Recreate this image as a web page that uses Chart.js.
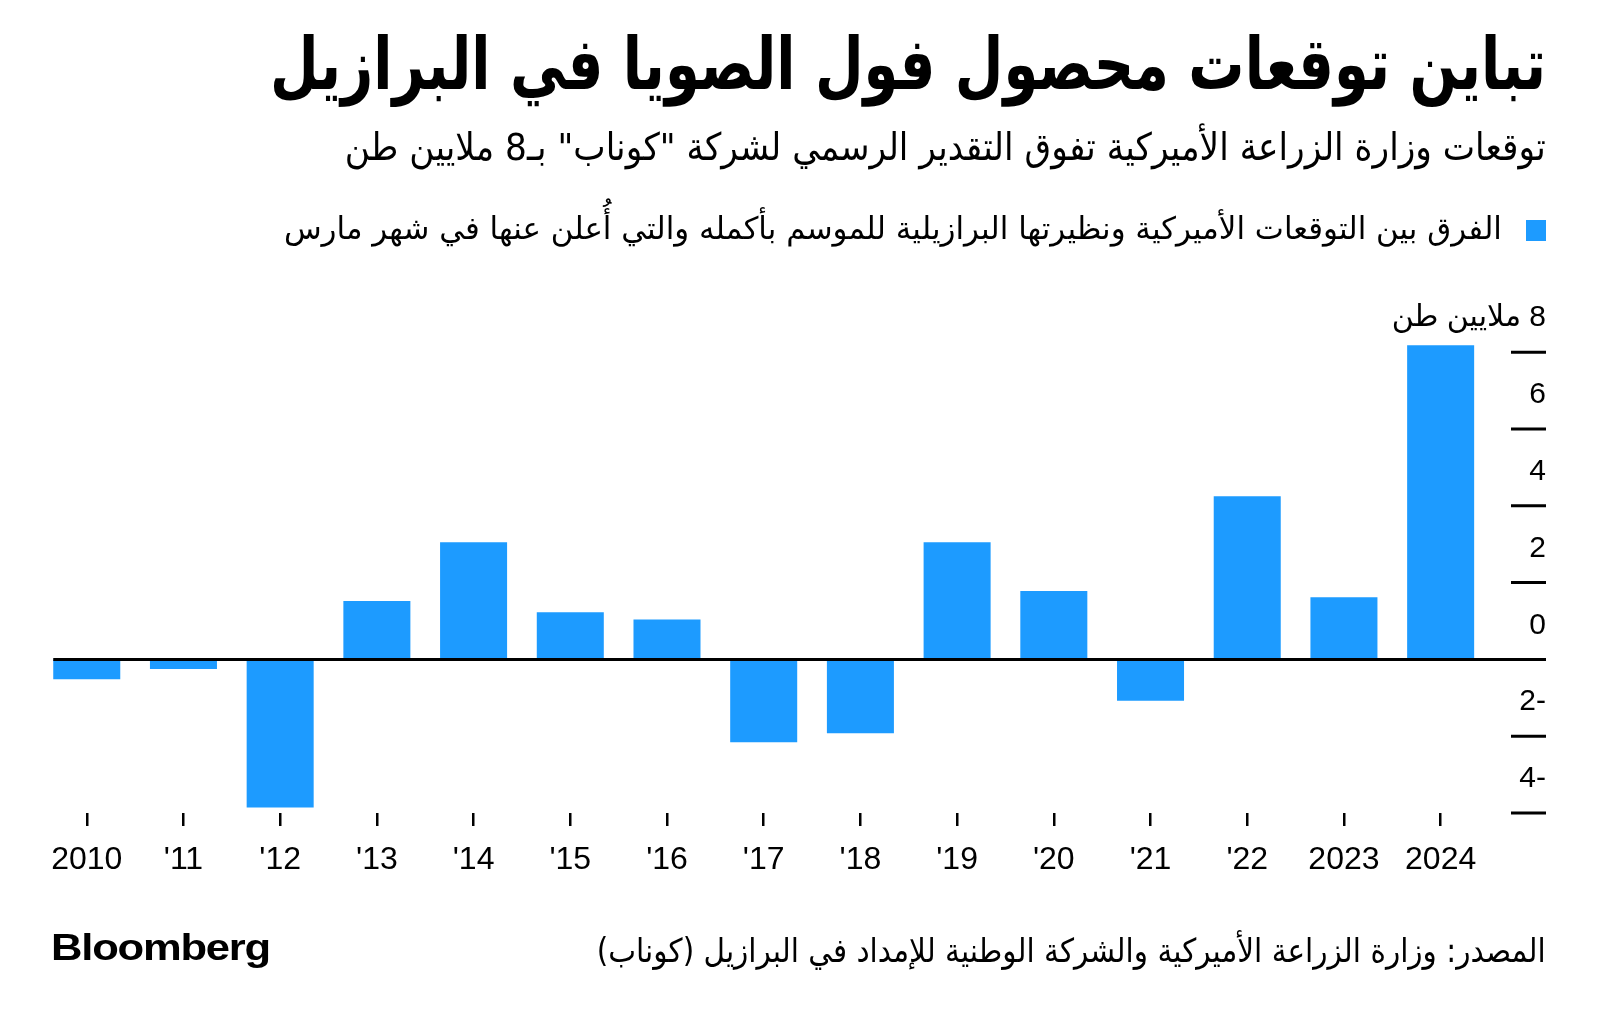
<!DOCTYPE html>
<html lang="ar">
<head>
<meta charset="utf-8">
<script src="https://cdn.jsdelivr.net/npm/chart.js@4"></script>
<style>
    body { margin: 0; background: #fff; }
    #page { position: relative; width: 1600px; height: 1025px; overflow: hidden; background: #fff; }
    #myChart { position: absolute; left: 0; top: 0; }
    .txt { position: absolute; white-space: nowrap; line-height: 1; color: #000; font-family: 'DejaVu Sans', sans-serif; }
    .rtl { direction: rtl; right: 54px; transform-origin: right center; }
    #title { top: 28px; font-size: 72px; font-weight: bold; }
    #subtitle { top: 128px; font-size: 38px; }
    #legendText { top: 213px; font-size: 31px; right: 98px; }
    #legendBox { position: absolute; left: 1526px; top: 220px; width: 20px; height: 21px; background: #1d9bff; }
    #source { top: 934px; font-size: 33px; }
    #logo { left: 51px; top: 930px; font-size: 36px; font-weight: bold; font-family: 'Liberation Sans', Arial, sans-serif; transform-origin: left center; letter-spacing: -1px; }
</style>
</head>
<body>
<div id="page">
    <canvas id="myChart" width="1600" height="1025"></canvas>
    <div id="title" class="txt rtl">تباين توقعات محصول فول الصويا في البرازيل</div>
    <div id="subtitle" class="txt rtl">توقعات وزارة الزراعة الأميركية تفوق التقدير الرسمي لشركة "كوناب" بـ8 ملايين طن</div>
    <div id="legendBox"></div>
    <div id="legendText" class="txt rtl">الفرق بين التوقعات الأميركية ونظيرتها البرازيلية للموسم بأكمله والتي أُعلن عنها في شهر مارس</div>
    <div id="source" class="txt rtl">المصدر: وزارة الزراعة الأميركية والشركة الوطنية للإمداد في البرازيل (كوناب)</div>
    <div id="logo" class="txt">Bloomberg</div>
</div>
<script>
// Data (million tonnes)
var categories = ['2010', "'11", "'12", "'13", "'14", "'15", "'16", "'17", "'18", "'19", "'20", "'21", "'22", '2023', '2024'];
var differences = [-0.52, -0.25, -3.86, 1.52, 3.05, 1.23, 1.04, -2.16, -1.92, 3.05, 1.78, -1.08, 4.25, 1.62, 8.18];
var yTicks = [-4, -2, 0, 2, 4, 6, 8];
var yUnit = 'ملايين طن';

var barColor = '#1d9bff';

// Squeeze the html texts to the widths they have in the original
function fitWidth(id, width) {
    var el = document.getElementById(id);
    var w = el.getBoundingClientRect().width;
    el.style.transform = 'scaleX(' + (width / w) + ')';
}
fitWidth('title', 1276);
fitWidth('subtitle', 1201);
fitWidth('legendText', 1218);
fitWidth('source', 949);
fitWidth('logo', 219);

// Right hand axis: short tick marks with the labels sitting above them, plus the zero line
var axisPlugin = {
    id: 'axisPlugin',
    afterDatasetsDraw: function(chart) {
        var ctx = chart.ctx;
        var yScale = chart.scales.y;
        var area = chart.chartArea;
        var first = chart.getDatasetMeta(0).data[0];
        var axisRight = area.right + 57;

        ctx.save();
        ctx.strokeStyle = '#000';
        ctx.fillStyle = '#000';

        // zero line
        var zeroY = yScale.getPixelForValue(0);
        ctx.lineWidth = 3;
        ctx.beginPath();
        ctx.moveTo(first.x - first.width / 2, zeroY);
        ctx.lineTo(axisRight, zeroY);
        ctx.stroke();

        ctx.font = '30px "Liberation Sans", "DejaVu Sans", sans-serif';
        ctx.direction = 'rtl';
        ctx.textAlign = 'right';
        ctx.textBaseline = 'middle';
        for (var i = 0; i < yTicks.length; i++) {
            var v = yTicks[i];
            var py = yScale.getPixelForValue(v);
            if (v !== 0) {
                ctx.beginPath();
                ctx.moveTo(area.right + 22, py);
                ctx.lineTo(axisRight, py);
                ctx.stroke();
            }
            var label = String(v);
            if (i === yTicks.length - 1) {
                label = v + ' ' + yUnit;
            }
            ctx.fillText(label, axisRight, py - 34);
        }
        ctx.restore();
    }
};

var ctx = document.getElementById('myChart').getContext('2d');
var myChart = new Chart(ctx, {
    type: 'bar',
    data: {
        labels: categories,
        datasets: [{
            label: 'الفرق',
            data: differences,
            backgroundColor: barColor,
            borderWidth: 0,
            categoryPercentage: 1,
            barPercentage: 0.693
        }]
    },
    options: {
        responsive: false,
        animation: false,
        devicePixelRatio: 1,
        layout: {
            padding: { left: 38.4, right: 111, top: 333, bottom: 150 }
        },
        plugins: {
            legend: { display: false },
            tooltip: { enabled: false }
        },
        scales: {
            x: {
                grid: {
                    display: true,
                    drawOnChartArea: false,
                    drawTicks: true,
                    tickLength: 13,
                    offset: false,
                    color: '#000',
                    lineWidth: 2.5
                },
                border: { display: false },
                ticks: {
                    color: '#000',
                    font: { family: 'Liberation Sans', size: 32 },
                    padding: 15,
                    maxRotation: 0,
                    autoSkip: false
                },
                afterFit: function(scale) {
                    scale.height = 62;
                }
            },
            y: {
                display: false,
                min: -4,
                max: 8.5
            }
        }
    },
    plugins: [axisPlugin]
});
</script>
</body>
</html>
